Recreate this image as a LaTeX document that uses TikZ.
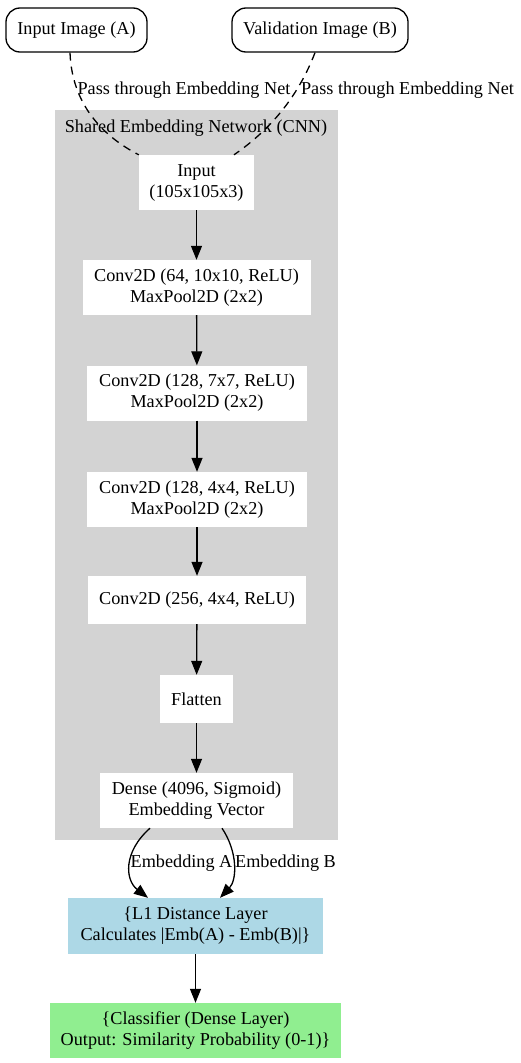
\documentclass[tikz,border=0pt]{standalone}
\usepackage{fontspec}
\setmainfont{Liberation Serif}
\usetikzlibrary{arrows.meta,calc}
\definecolor{clgray}{RGB}{211,211,211}
\definecolor{lblue}{RGB}{173,216,230}
\definecolor{lgreen}{RGB}{144,238,144}
\begin{document}
\begin{tikzpicture}[x=1pt,y=-1pt,
  every node/.style={font=\fontsize{18.2}{21}\selectfont, align=center, inner sep=0pt},
  imgbox/.style={draw, line width=1.3pt, rounded corners=14pt, minimum height=44pt},
  layerbox/.style={fill=white, minimum height=55pt},
  onebox/.style={fill=white, minimum height=48pt},
  flow/.style={line width=1.3pt, -{Triangle[length=14pt,width=11pt]}},
  dashflow/.style={line width=1.3pt, dash pattern=on 8pt off 6pt},
  lbl/.style={font=\fontsize{18.2}{21}\selectfont}
]
\useasboundingbox (0,0) rectangle (521,1063);
% cluster
\fill[clgray] (55,110) rectangle (338,840);
\node[lbl] (cltitle) at (196,128) {Shared Embedding Network (CNN)};

\node[imgbox, minimum width=141pt] (inA) at (76.5,30) {Input Image (A)};
\node[imgbox, minimum width=176pt] (inB) at (320,30) {Validation Image (B)};

\node[layerbox, minimum width=115pt] (inp) at (196.5,182.5) {Input\\(105x105x3)};
\node[layerbox, minimum width=228pt] (c1) at (196.5,287.5) {Conv2D (64, 10x10, ReLU)\\MaxPool2D (2x2)};
\node[layerbox, minimum width=220pt] (c2) at (197,393) {Conv2D (128, 7x7, ReLU)\\MaxPool2D (2x2)};
\node[layerbox, minimum width=220pt] (c3) at (197,499.5) {Conv2D (128, 4x4, ReLU)\\MaxPool2D (2x2)};
\node[onebox, minimum width=218pt] (c4) at (197,600) {Conv2D (256, 4x4, ReLU)};
\node[onebox, minimum width=73pt] (fl) at (196.5,699) {Flatten};
\node[layerbox, minimum width=193pt] (dense) at (196.5,800.5) {Dense (4096, Sigmoid)\\Embedding Vector};
\node[fill=lblue, minimum width=255pt, minimum height=56pt] (l1) at (195.5,926) {\{L1 Distance Layer\\Calculates |Emb(A) - Emb(B)|\}};
\node[fill=lgreen, minimum width=291pt, minimum height=55pt] (cls) at (195.5,1030.5) {\{Classifier (Dense Layer)\\Output: Similarity Probability (0-1)\}};

% dashed inputs
\draw[dashflow] ([xshift=-6.5pt]inA.south) .. controls (72,110) and (110,140) .. (inp.north west);
\draw[dashflow] ([xshift=-5pt]inB.south) .. controls (298,97) and (270,130) .. ([xshift=37.5pt]inp.north);
\node[lbl] (pA) at (184,90) {Pass through Embedding Net};
\node[lbl] (pB) at (407.5,90) {Pass through Embedding Net};

% vertical flow
\draw[flow] (inp) -- (c1);
\draw[flow] (c1) -- (c2);
\draw[flow] (c2) -- (c3);
\draw[flow] (c3) -- (c4);
\draw[flow] (c4) -- (fl);
\draw[flow] (fl) -- (dense);
\draw[flow] (l1) -- (cls);

% embeddings
\draw[flow] ([xshift=-46.5pt]dense.south) .. controls (123,852) and (125,880) .. ([xshift=-47.5pt]l1.north);
\draw[flow] ([xshift=25.5pt]dense.south) .. controls (238,852) and (237,880) .. ([xshift=24.5pt]l1.north);
\node[lbl] (eA) at (181.5,863) {Embedding A};
\node[lbl] (eB) at (285.5,863) {Embedding B};
\end{tikzpicture}
\end{document}
